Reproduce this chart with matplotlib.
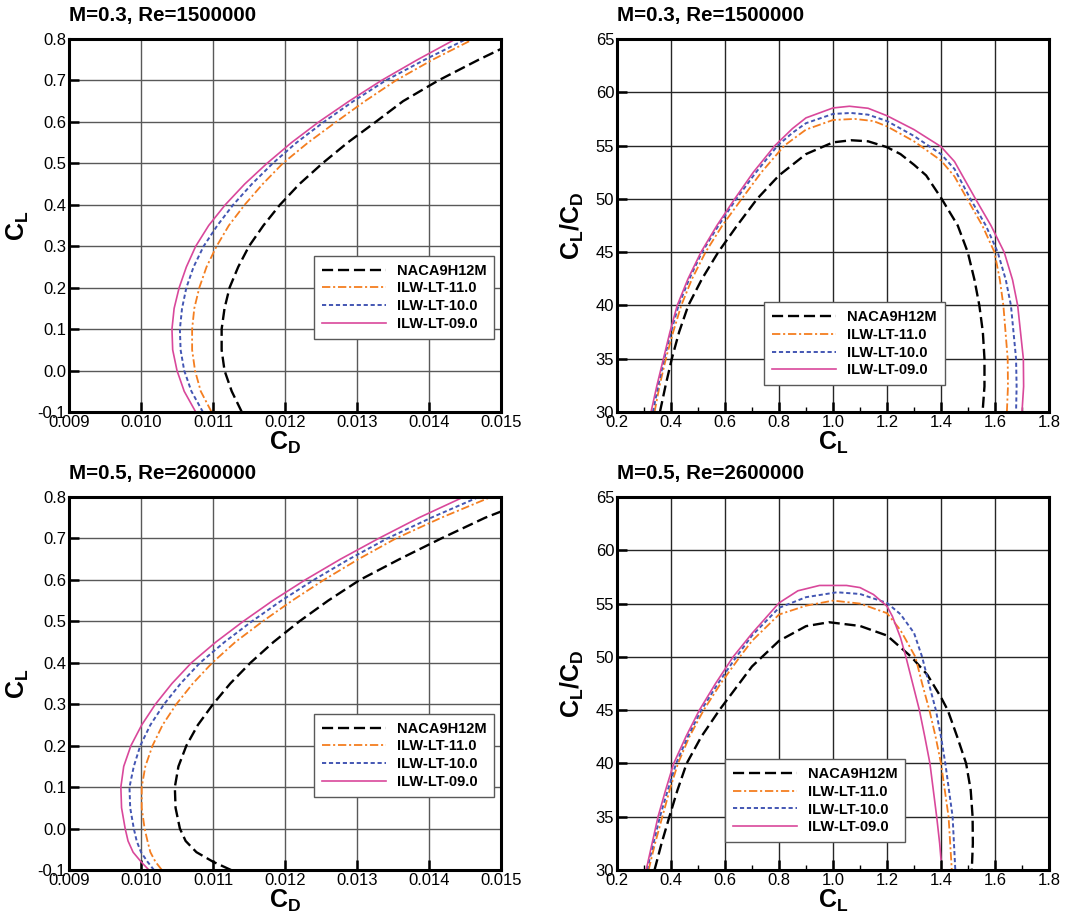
import matplotlib.pyplot as plt
from matplotlib.ticker import FormatStrFormatter, MultipleLocator

plt.rcParams["font.family"] = ["Liberation Sans", "DejaVu Sans"]
plt.rcParams["mathtext.fontset"] = "custom"
plt.rcParams["mathtext.rm"] = "Liberation Sans"
plt.rcParams["mathtext.bf"] = "Liberation Sans:bold"
plt.rcParams["lines.scale_dashes"] = False
plt.rcParams["axes.unicode_minus"] = False

NAMES = ["NACA9H12M", "ILW-LT-11.0", "ILW-LT-10.0", "ILW-LT-09.0"]
COLORS = ["black", "#F47E20", "#4356B3", "#D9489B"]
STYLES = [(0, (8, 3.5)), (0, (6, 2, 1.5, 2)), (0, (3, 2)), "-"]
WIDTHS = [1.7, 1.3, 1.4, 1.2]

# ---- M=0.3, Re=1.5e6 : drag polar (C_D vs C_L)
m03_cl = [-0.1, -0.05, 0.0, 0.05, 0.1, 0.15, 0.2, 0.25, 0.3, 0.35, 0.4, 0.45, 0.5,
          0.55, 0.6, 0.65, 0.7, 0.75, 0.8]
m03_cd_naca = [0.01140, 0.01126, 0.01116, 0.01112, 0.01112, 0.01116, 0.01123, 0.01135,
               0.01150, 0.01170, 0.01193, 0.01220, 0.01252, 0.01287, 0.01326, 0.01364,
               0.01413, 0.01469]
m03_cd_11 = [0.01098, 0.01083, 0.01075, 0.01071, 0.01071, 0.01074, 0.01081, 0.01091,
             0.01105, 0.01122, 0.01144, 0.01169, 0.01197, 0.01232, 0.01271, 0.01311,
             0.01354, 0.01405, 0.01462]
m03_cd_10 = [0.01086, 0.01070, 0.01060, 0.01055, 0.01054, 0.01057, 0.01063, 0.01073,
             0.01087, 0.01106, 0.01128, 0.01154, 0.01183, 0.01216, 0.01254, 0.01295,
             0.01340, 0.01394, 0.01452]
m03_cd_09 = [0.01076, 0.01060, 0.01050, 0.01044, 0.01043, 0.01046, 0.01053, 0.01063,
             0.01076, 0.01094, 0.01117, 0.01144, 0.01175, 0.01209, 0.01247, 0.01289,
             0.01334, 0.01384, 0.01437]
m03_naca_end = (0.0150, 0.776)

# ---- M=0.5, Re=2.6e6 : drag polar
m05_cl = [-0.1, -0.08, -0.057, -0.03, 0.0, 0.05, 0.1, 0.15, 0.2, 0.25, 0.3, 0.35, 0.4,
          0.45, 0.5, 0.55, 0.6, 0.65, 0.7, 0.75, 0.8]
m05_cd_naca = [0.01125, 0.01100, 0.01077, 0.01062, 0.01054, 0.01048, 0.01047, 0.01052,
               0.01063, 0.01079, 0.01100, 0.01124, 0.01152, 0.01184, 0.01220, 0.01260,
               0.01304, 0.01359, 0.01417, 0.01478]
m05_cd_11 = [0.01029, 0.01020, 0.01013, 0.01009, 0.01005, 0.01001, 0.01001, 0.01006,
             0.01016, 0.01030, 0.01049, 0.01072, 0.01099, 0.01131, 0.01169, 0.01210,
             0.01254, 0.01302, 0.01354, 0.01417, 0.01486]
m05_cd_10 = [0.01018, 0.01009, 0.01000, 0.00994, 0.00990, 0.00985, 0.00984, 0.00990,
             0.00999, 0.01013, 0.01032, 0.01055, 0.01082, 0.01116, 0.01154, 0.01195,
             0.01240, 0.01289, 0.01342, 0.01403, 0.01469]
m05_cd_09 = [0.01011, 0.01000, 0.00989, 0.00982, 0.00978, 0.00973, 0.00972, 0.00976,
             0.00986, 0.01001, 0.01020, 0.01043, 0.01070, 0.01104, 0.01142, 0.01183,
             0.01228, 0.01277, 0.01330, 0.01386, 0.01448]
m05_naca_end = (0.0150, 0.765)

# ---- M=0.3 : lift-to-drag ratio vs C_L
m03_ld_cl_naca = [0.359, 0.380, 0.403, 0.430, 0.464, 0.515, 0.575, 0.645, 0.719, 0.80,
                  0.90, 1.00, 1.067, 1.13, 1.20, 1.25, 1.30, 1.345, 1.40, 1.462, 1.499,
                  1.524, 1.542, 1.555, 1.561, 1.561, 1.554]
m03_ld_naca = [30, 32.5, 35, 37.5, 40, 42.5, 45, 47.5, 50, 52.2, 54.2, 55.3, 55.5, 55.4,
               54.85, 54.2, 53.2, 52.2, 50.1, 47.5, 45, 42.4, 40, 37.5, 35, 32.4, 30]
m03_ld_cl_11 = [0.339, 0.358, 0.381, 0.408, 0.438, 0.478, 0.528, 0.590, 0.662, 0.735,
                0.82, 0.90, 1.00, 1.08, 1.15, 1.20, 1.30, 1.40, 1.45, 1.499, 1.553,
                1.598, 1.618, 1.631, 1.647, 1.648, 1.644]
m03_ld_11 = [30, 32.5, 35, 37.5, 40, 42.5, 45, 47.5, 50, 52.5, 55, 56.5, 57.4, 57.5,
             57.3, 56.8, 55.4, 53.6, 52.1, 49.9, 47.5, 45, 42.4, 40, 35, 32.4, 30]
m03_ld_cl_10 = [0.333, 0.353, 0.375, 0.400, 0.428, 0.468, 0.515, 0.576, 0.642, 0.715,
                0.795, 0.85, 0.90, 1.00, 1.067, 1.13, 1.20, 1.30, 1.40, 1.45, 1.511,
                1.566, 1.610, 1.640, 1.659, 1.678, 1.680, 1.678]
m03_ld_10 = [30, 32.5, 35, 37.5, 40, 42.5, 45, 47.5, 50, 52.5, 55, 56.2, 57.1, 57.97,
             58.06, 57.9, 57.3, 55.9, 54.2, 52.8, 49.9, 47.5, 45, 42.4, 40, 35, 32.4, 30]
m03_ld_cl_09 = [0.326, 0.348, 0.372, 0.396, 0.423, 0.463, 0.511, 0.570, 0.636, 0.705,
                0.785, 0.85, 0.90, 1.00, 1.061, 1.13, 1.20, 1.30, 1.40, 1.45,
                1.53, 1.585, 1.634, 1.665, 1.684, 1.705, 1.706, 1.70]
m03_ld_09 = [30, 32.5, 35, 37.5, 40, 42.5, 45, 47.5, 50, 52.5, 55, 56.6, 57.6, 58.53,
             58.69, 58.5, 57.8, 56.5, 54.9, 53.5, 49.9, 47.5, 45, 42.4, 40, 35,
             32.4, 30]

# ---- M=0.5 : lift-to-drag ratio vs C_L
m05_ld_cl_naca = [0.339, 0.365, 0.394, 0.424, 0.458, 0.512, 0.579, 0.70, 0.80, 0.90,
                  0.985, 1.10, 1.20, 1.29, 1.35, 1.40, 1.425, 1.46, 1.493, 1.51, 1.517,
                  1.518, 1.514]
m05_ld_naca = [30, 32.5, 35, 37.5, 40, 42.5, 45, 49.1, 51.5, 52.88, 53.25, 52.9, 52.0,
               50, 48.3, 46.2, 45, 42.5, 40, 37.5, 35, 32.5, 30]
m05_ld_cl_11 = [0.317, 0.341, 0.368, 0.395, 0.426, 0.468, 0.521, 0.584, 0.655, 0.70,
                0.80, 0.90, 1.00, 1.10, 1.20, 1.25, 1.305, 1.33, 1.357, 1.38, 1.40,
                1.428, 1.44]
m05_ld_11 = [30, 32.5, 35, 37.5, 40, 42.5, 45, 47.5, 50, 51.5, 53.97, 54.8, 55.28, 55.0,
             54.1, 52.5, 50, 47.5, 45, 42.5, 40, 35, 30]
m05_ld_cl_10 = [0.311, 0.335, 0.359, 0.388, 0.419, 0.462, 0.512, 0.574, 0.642, 0.70,
                0.80, 0.90, 1.015, 1.10, 1.20, 1.25, 1.30, 1.33, 1.355, 1.381, 1.40,
                1.416, 1.443, 1.453]
m05_ld_10 = [30, 32.5, 35, 37.5, 40, 42.5, 45, 47.5, 50, 52.0, 54.6, 55.6, 56.06, 55.9,
             55.06, 54.0, 52.25, 50, 47.5, 45, 42.5, 40, 35, 30]
m05_ld_cl_09 = [0.308, 0.330, 0.352, 0.380, 0.41, 0.455, 0.505, 0.565, 0.63, 0.70, 0.80,
                0.87, 0.95, 1.05, 1.10, 1.15, 1.20, 1.22, 1.25, 1.27, 1.295, 1.32,
                1.34, 1.359, 1.384, 1.395, 1.40]
m05_ld_09 = [30, 32.5, 35, 37.5, 40, 42.5, 45, 47.5, 50, 52.2, 55.06, 56.2, 56.7, 56.7,
             56.5, 55.85, 54.75, 53.8, 51.8, 50, 47.5, 45, 42.5, 40, 35, 32.5, 31.0]


def polar_series(cl, cds, end):
    out = []
    for i, cd in enumerate(cds):
        xs = list(cd)
        ys = list(cl[:len(xs)])
        if i == 0:
            xs.append(end[0])
            ys.append(end[1])
        out.append((xs, ys))
    return out


def setup(ax, title, polar):
    ax.set_title(title, loc="left", fontsize=14.8, fontweight="bold", pad=13)
    if polar:
        ax.set_xlim(0.009, 0.015)
        ax.set_ylim(-0.1, 0.8)
        ax.xaxis.set_major_locator(MultipleLocator(0.001))
        ax.yaxis.set_major_locator(MultipleLocator(0.1))
        ax.xaxis.set_major_formatter(FormatStrFormatter("%.3f"))
        ax.yaxis.set_major_formatter(FormatStrFormatter("%.1f"))
        ax.set_xlabel(r"$\mathbf{C_D}$", fontsize=18, labelpad=0)
        ax.set_ylabel(r"$\mathbf{C_L}$", fontsize=18, labelpad=5)
        grid_c = "0.35"
    else:
        ax.set_xlim(0.2, 1.8)
        ax.set_ylim(30, 65)
        ax.xaxis.set_major_locator(MultipleLocator(0.2))
        ax.xaxis.set_minor_locator(MultipleLocator(0.1))
        ax.yaxis.set_major_locator(MultipleLocator(5))
        ax.xaxis.set_major_formatter(FormatStrFormatter("%.1f"))
        ax.yaxis.set_major_formatter(FormatStrFormatter("%d"))
        ax.set_xlabel(r"$\mathbf{C_L}$", fontsize=18, labelpad=0)
        ax.set_ylabel(r"$\mathbf{C_L/C_D}$", fontsize=18, labelpad=7)
        grid_c = "0.15"
    ax.grid(True, which="major", color=grid_c, lw=1.0)
    ax.set_axisbelow(True)
    ax.tick_params(which="major", direction="in", length=7, width=1.8,
                   labelsize=12, pad=2, top=False, right=False)
    ax.tick_params(which="minor", direction="in", length=3.5, width=1.0,
                   top=False, right=False)
    for sp in ax.spines.values():
        sp.set_linewidth(2.2)


def draw(ax, series, anchor):
    for (xs, ys), name, c, st, w in zip(series, NAMES, COLORS, STYLES, WIDTHS):
        ax.plot(xs, ys, color=c, linestyle=st, lw=w, label=name)
    leg = ax.legend(loc="upper left", bbox_to_anchor=anchor, borderaxespad=0,
                    fancybox=False, framealpha=1, edgecolor="0.35",
                    prop=dict(weight="bold", size=10.5), handlelength=4.4,
                    handletextpad=0.75, labelspacing=0.25, borderpad=0.55)
    leg.get_frame().set_linewidth(1.0)


fig = plt.figure(figsize=(10.7, 9.21), dpi=100)
W, H = 432 / 1070, 373 / 921
ax1 = fig.add_axes([69 / 1070, 1 - 412 / 921, W, H])
ax2 = fig.add_axes([617 / 1070, 1 - 412 / 921, W, H])
ax3 = fig.add_axes([69 / 1070, 1 - 870 / 921, W, H])
ax4 = fig.add_axes([617 / 1070, 1 - 870 / 921, W, H])

setup(ax1, "M=0.3, Re=1500000", True)
draw(ax1, polar_series(m03_cl, [m03_cd_naca, m03_cd_11, m03_cd_10, m03_cd_09], m03_naca_end),
     (0.566, 0.419))

setup(ax2, "M=0.3, Re=1500000", False)
draw(ax2, [(m03_ld_cl_naca, m03_ld_naca), (m03_ld_cl_11, m03_ld_11),
           (m03_ld_cl_10, m03_ld_10), (m03_ld_cl_09, m03_ld_09)], (0.340, 0.294))

setup(ax3, "M=0.5, Re=2600000", True)
draw(ax3, polar_series(m05_cl, [m05_cd_naca, m05_cd_11, m05_cd_10, m05_cd_09], m05_naca_end),
     (0.566, 0.419))

setup(ax4, "M=0.5, Re=2600000", False)
draw(ax4, [(m05_ld_cl_naca, m05_ld_naca), (m05_ld_cl_11, m05_ld_11),
           (m05_ld_cl_10, m05_ld_10), (m05_ld_cl_09, m05_ld_09)], (0.249, 0.297))

fig.savefig("out.png", dpi=100)
